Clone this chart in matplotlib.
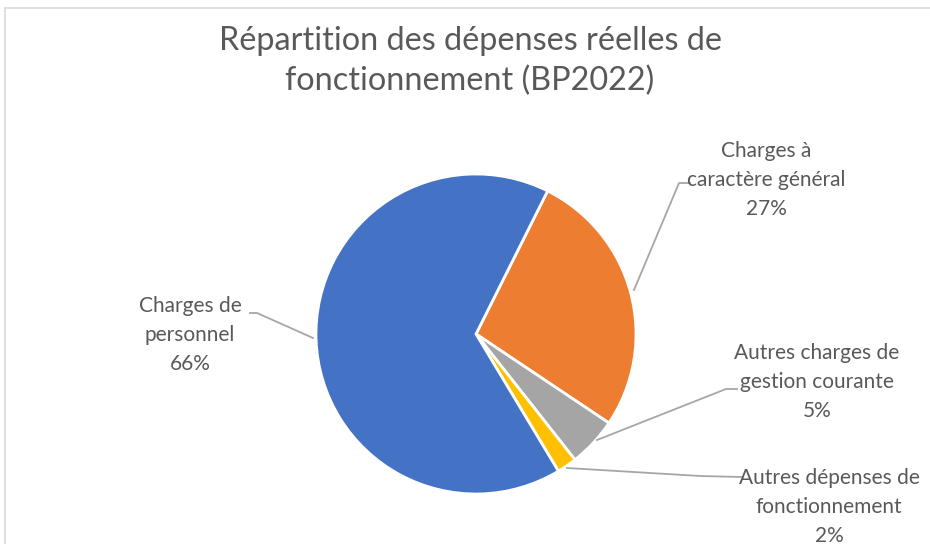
import matplotlib
matplotlib.use("Agg")
import matplotlib.pyplot as plt
from matplotlib.patches import Rectangle
from matplotlib.lines import Line2D

plt.rcParams['font.family'] = ['Lato', 'DejaVu Sans']

title = "Répartition des dépenses réelles de\nfonctionnement (BP2022)"
categories = ["Charges à\ncaractère général", "Autres charges de\ngestion courante",
              "Autres dépenses de\nfonctionnement", "Charges de\npersonnel"]
values = [27, 5, 2, 66]
colors = ["#ED7D31", "#A5A5A5", "#FFC000", "#4472C4"]

W, H = 930, 544
fig = plt.figure(figsize=(W / 100, H / 100), dpi=100)

def fx(x):
    return x / W

def fy(y):
    return 1 - y / H

# chart frame
fig.patches.append(Rectangle((fx(5), fy(560)), fx(940) - fx(5), fy(8) - fy(560),
                             transform=fig.transFigure, fill=False,
                             edgecolor="#D9D9D9", linewidth=1.2))

cx, cy, r = 476, 334, 160
ax = fig.add_axes([fx(cx - r), fy(cy + r), fx(2 * r), (2 * r) / H])
ax.pie(values, colors=colors, startangle=63.4, counterclock=False,
       wedgeprops=dict(edgecolor="white", linewidth=2))
ax.set_aspect("equal")
ax.set_xlim(-1, 1)
ax.set_ylim(-1, 1)
ax.axis("off")

fig.text(fx(470), fy(61), title, ha="center", va="center", fontsize=23.3,
         color="#595959", linespacing=1.42)

label_pos = [(766, 180), (817, 382), (829, 507), (190, 335)]
leaders = [
    [(634, 290), (679, 183), (690, 183)],
    [(597, 440), (726, 389), (737, 389)],
    [(567, 468), (700, 476), (742, 477)],
    [(313, 338), (257, 313), (250, 313)],
]
for cat, v, (lx, ly), pts in zip(categories, values, label_pos, leaders):
    fig.text(fx(lx), fy(ly), f"{cat}\n{v}%", ha="center", va="center",
             fontsize=15, color="#595959", linespacing=1.55)
    xs = [fx(p[0]) for p in pts]
    ys = [fy(p[1]) for p in pts]
    fig.lines.append(Line2D(xs, ys, transform=fig.transFigure,
                            color="#A6A6A6", linewidth=1.3))

fig.savefig("out.png", dpi=100, facecolor="white")
